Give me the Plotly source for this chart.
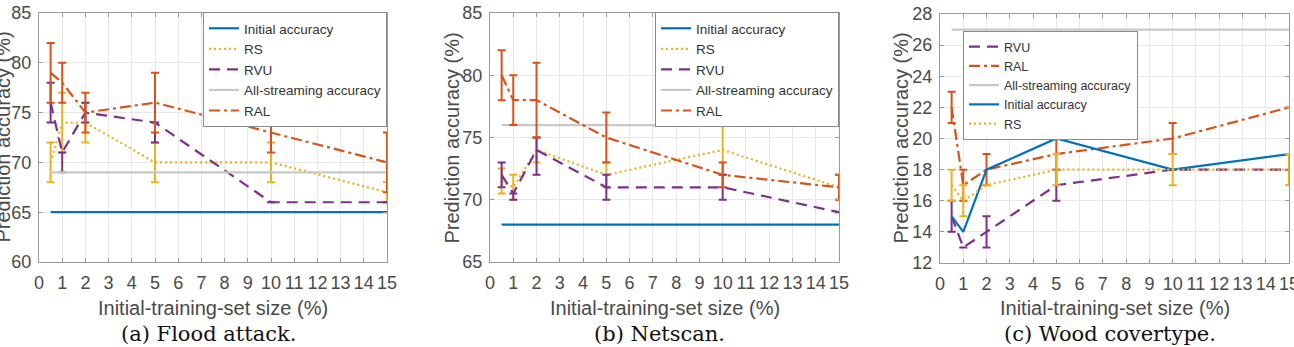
import plotly.graph_objects as go

W, H = 1294, 347

# ---------------- data ----------------
x_sizes = [0.5, 1, 2, 5, 10, 15]

# (a) Flood attack
a_initial = [65, 65, 65, 65, 65, 65]
a_rs = [70, 74, 74, 70, 70, 67]
a_rs_err = [2, 3, 2, 2, 2, 1]
a_rvu = [76, 71, 75, 74, 66, 66]
a_rvu_plus = [2, 0, 1, 0, 0, 0]
a_rvu_minus = [2, 2, 1, 2, 0, 0]
a_stream = [69, 69, 69, 69, 69, 69]
a_ral = [79, 78, 75, 76, 73, 70]
a_ral_err = [3, 2, 2, 3, 2, 3]

# (b) Netscan
b_initial = [68, 68, 68, 68, 68, 68]
b_rs = [71.5, 71, 74, 72, 74, 71]
b_rs_err = [1, 1, 1, 1, 2, 1]
b_rvu = [72, 70.5, 74, 71, 71, 69]
b_rvu_plus = [1, 0, 1, 1, 1, 0]
b_rvu_minus = [1, 0.5, 2, 1, 1, 0]
b_stream = [76, 76, 76, 76, 76, 76]
b_ral = [80, 78, 78, 75, 72, 71]
b_ral_err = [2, 2, 3, 2, 1, 1]

# (c) Wood covertype
c_initial = [15, 14, 18, 20, 18, 19]
c_rs = [17, 16, 17, 18, 18, 18]
c_rs_err = [1, 1, 0, 1, 1, 1]
c_rvu = [15, 13, 14, 17, 18, 18]
c_rvu_err = [1, 0, 1, 1, 0, 0]
c_stream = [27, 27, 27, 27, 27, 27]
c_ral = [22, 17, 18, 19, 20, 22]
c_ral_err = [1, 1, 1, 1, 1, 0]

x_ticks = list(range(0, 16))
a_yticks = [60, 65, 70, 75, 80, 85]
b_yticks = [65, 70, 75, 80, 85]
c_yticks = [12, 14, 16, 18, 20, 22, 24, 26, 28]

captions = ["(a) Flood attack.", "(b) Netscan.", "(c) Wood covertype."]
xtitle = "Initial-training-set size (%)"
ytitle = "Prediction accuracy (%)"

# ---------------- styles ----------------
BLUE = "#0072BD"
ORANGE = "#D95319"
YELLOW = "#EDB120"
PURPLE = "#7E2F8E"
GRAY = "#c8c8c8"
LW = 2.2

FONT = "Liberation Sans, Arial, Helvetica, sans-serif"

fig = go.Figure()


def add_line(xa, ya, leg, name, y, color, dash, plus=None, minus=None):
    kw = {}
    if plus is not None:
        kw["error_y"] = dict(type="data", symmetric=False, array=plus,
                             arrayminus=minus if minus is not None else plus,
                             color=color, thickness=2, width=4)
    fig.add_trace(go.Scatter(
        x=x_sizes, y=y, mode="lines", name=name,
        line=dict(color=color, width=LW, dash=dash),
        xaxis=xa, yaxis=ya, legend=leg, **kw))


DOT = "2px,3px"
DASH = "11px,7px"
DASHDOT = "11px,4px,3px,4px"

# panel a
add_line("x", "y", "legend", "Initial accuracy", a_initial, BLUE, "solid")
add_line("x", "y", "legend", "RS", a_rs, YELLOW, DOT, a_rs_err)
add_line("x", "y", "legend", "RVU", a_rvu, PURPLE, DASH, a_rvu_plus, a_rvu_minus)
add_line("x", "y", "legend", "All-streaming accuracy", a_stream, GRAY, "solid")
add_line("x", "y", "legend", "RAL", a_ral, ORANGE, DASHDOT, a_ral_err)

# panel b
add_line("x2", "y2", "legend2", "Initial accuracy", b_initial, BLUE, "solid")
add_line("x2", "y2", "legend2", "RS", b_rs, YELLOW, DOT, b_rs_err)
add_line("x2", "y2", "legend2", "RVU", b_rvu, PURPLE, DASH, b_rvu_plus, b_rvu_minus)
add_line("x2", "y2", "legend2", "All-streaming accuracy", b_stream, GRAY, "solid")
add_line("x2", "y2", "legend2", "RAL", b_ral, ORANGE, DASHDOT, b_ral_err)

# panel c
add_line("x3", "y3", "legend3", "RVU", c_rvu, PURPLE, DASH, c_rvu_err)
add_line("x3", "y3", "legend3", "RAL", c_ral, ORANGE, DASHDOT, c_ral_err)
add_line("x3", "y3", "legend3", "All-streaming accuracy", c_stream, GRAY, "solid")
add_line("x3", "y3", "legend3", "Initial accuracy", c_initial, BLUE, "solid")
add_line("x3", "y3", "legend3", "RS", c_rs, YELLOW, DOT, c_rs_err)

# ---------------- layout ----------------
panels = [
    # (x0px, x1px, ytop, ybot, yrange, yticks)
    (39, 387, 13, 262, [60, 85], a_yticks),
    (490, 839, 13, 262, [65, 85], b_yticks),
    (940, 1289, 14, 263, [12, 28], c_yticks),
]

axis_common = dict(
    showline=True, linecolor="#9a9a9a", linewidth=1, mirror="ticks",
    ticks="inside", ticklen=4, tickcolor="#9a9a9a",
    showgrid=True, gridcolor="#e8e8e8", gridwidth=1,
    zeroline=False, automargin=False,
    tickfont=dict(family=FONT, size=18, color="#4a4a4a"),
)

layout = dict(
    width=W, height=H,
    margin=dict(l=0, r=0, t=0, b=0, pad=0, autoexpand=False),
    paper_bgcolor="white", plot_bgcolor="white",
    showlegend=True,
)

annotations = []
for i, (x0, x1, yt, yb, yr, yt_vals) in enumerate(panels):
    sfx = "" if i == 0 else str(i + 1)
    layout["xaxis" + sfx] = dict(
        axis_common, domain=[x0 / W, x1 / W], range=[0, 15],
        tickvals=x_ticks, anchor="y" + sfx, ticklabelstandoff=4,
        ticklabeloverflow="allow")
    layout["yaxis" + sfx] = dict(
        axis_common, domain=[1 - yb / H, 1 - yt / H], range=yr,
        tickvals=yt_vals, anchor="x" + sfx, ticklabelstandoff=3,
        ticklabeloverflow="allow")
    cx = (x0 + x1) / 2
    annotations.append(dict(
        x=cx / W, y=1 - 308 / H, xref="paper", yref="paper",
        text=xtitle, showarrow=False, xanchor="center", yanchor="middle",
        font=dict(family=FONT, size=20, color="#4a4a4a")))
    annotations.append(dict(
        x=(cx - 5) / W, y=1 - 334 / H, xref="paper", yref="paper",
        text=captions[i], showarrow=False, xanchor="center", yanchor="middle",
        font=dict(family="DejaVu Serif, serif", size=21, color="#111111")))

ytitle_x = [3, 452, 900]
for i, xx in enumerate(ytitle_x):
    yc = (panels[i][2] + panels[i][3]) / 2
    annotations.append(dict(
        x=xx / W, y=1 - yc / H, xref="paper", yref="paper",
        text=ytitle, showarrow=False, textangle=-90,
        xanchor="center", yanchor="middle",
        font=dict(family=FONT, size=20, color="#4a4a4a")))

layout["annotations"] = annotations

leg_common = dict(
    bgcolor="white", bordercolor="#8a8a8a", borderwidth=1,
    font=dict(family=FONT, size=13.5, color="#333333"),
    tracegroupgap=0, itemclick=False,
)
layout["legend"] = dict(leg_common, x=387 / W, y=1 - 12 / H,
                        xanchor="right", yanchor="top")
layout["legend2"] = dict(leg_common, x=839 / W, y=1 - 12 / H,
                         xanchor="right", yanchor="top")
layout["legend3"] = dict(leg_common, x=963 / W, y=1 - 31 / H,
                         xanchor="left", yanchor="top",
                         font=dict(family=FONT, size=12.5, color="#333333"))

fig.update_layout(**layout)
fig.write_html("out.html")
